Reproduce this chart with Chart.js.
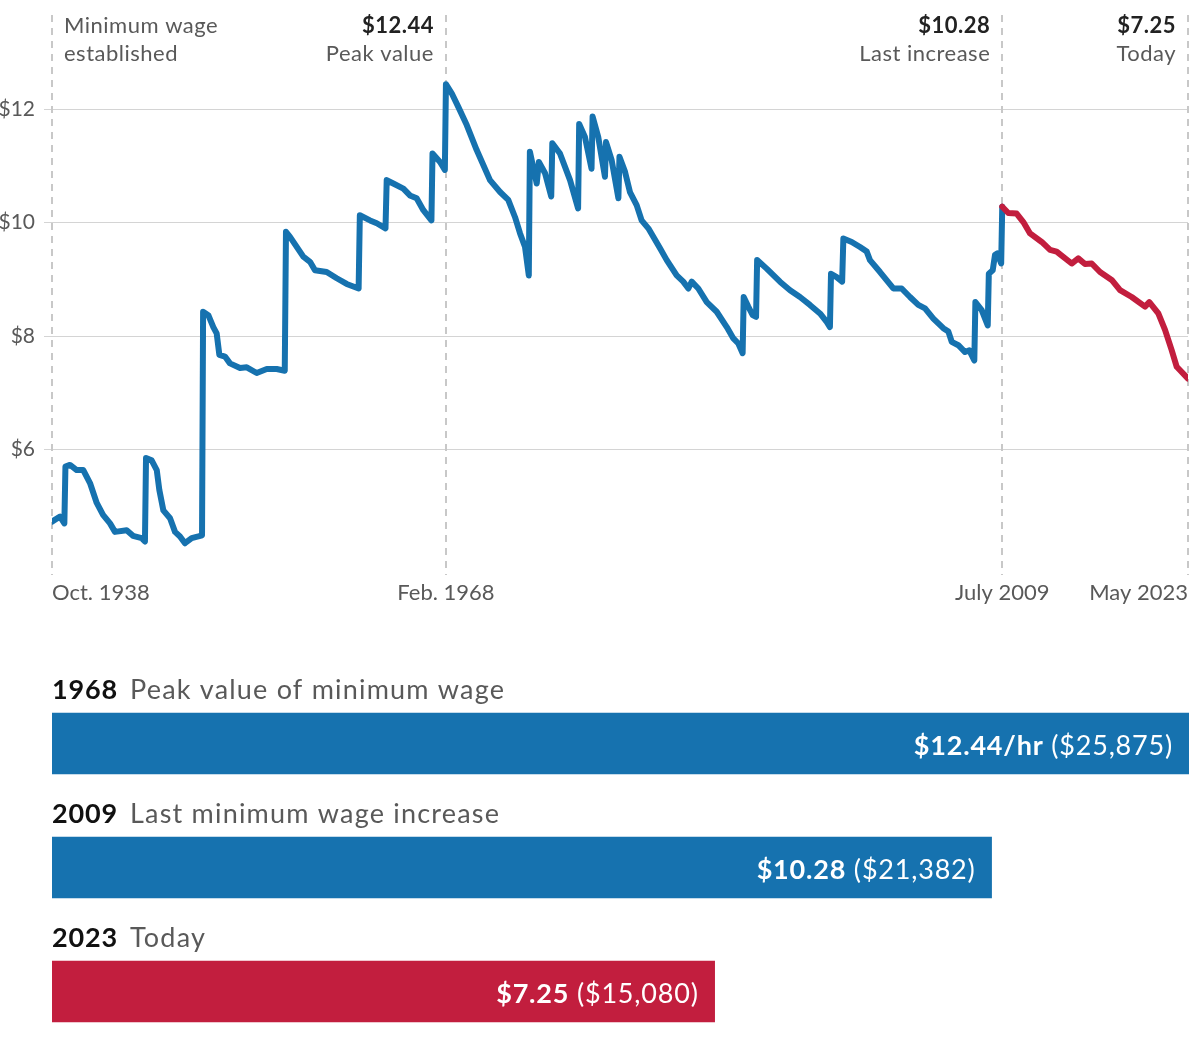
<!DOCTYPE html>
<html>
<head>
<meta charset="utf-8">
<title>Real value of the federal minimum wage</title>
<script src="https://cdn.jsdelivr.net/npm/chart.js@4.4.1/dist/chart.umd.min.js"></script>
<style>
  html, body { margin: 0; padding: 0; background: #fff; overflow: hidden; }
  #wrap { position: relative; width: 1200px; height: 1050px; overflow: hidden; }
  #lineChart { position: absolute; left: 0; top: 0; }
  #barChart { position: absolute; left: 0; top: 620px; }
</style>
</head>
<body>
<div id="wrap">
  <canvas id="lineChart" width="1200" height="620"></canvas>
  <canvas id="barChart" width="1200" height="440"></canvas>
</div>
<script>
// minimum wage in May 2023 dollars, dates as decimal years
const blueDates = [
  1938.75, 1939.35, 1939.67, 1939.75, 1940.09, 1940.59, 1941.08, 1941.58, 1942.08, 1942.55,
  1943.07, 1943.44, 1944.31, 1944.78, 1945.43, 1945.67, 1945.75, 1946.17, 1946.55, 1946.74,
  1947.04, 1947.54, 1947.91, 1948.28, 1948.65, 1949.15, 1949.64, 1949.92, 1950.0, 1950.39,
  1950.76, 1951.01, 1951.21, 1951.63, 1952.0, 1952.75, 1953.25, 1953.99, 1954.74, 1955.48,
  1956.08, 1956.17, 1956.47, 1957.46, 1957.96, 1958.33, 1959.2, 1959.95, 1960.69, 1961.58,
  1961.67, 1962.43, 1962.93, 1963.58, 1963.67, 1964.16, 1964.91, 1965.4, 1965.9, 1966.4,
  1967.0, 1967.08, 1967.64, 1968.0, 1968.08, 1968.51, 1969.0, 1969.63, 1970.37, 1971.36,
  1972.11, 1972.72, 1973.22, 1973.6, 1973.97, 1974.25, 1974.33, 1974.84, 1975.0, 1975.46,
  1975.92, 1976.0, 1976.57, 1977.32, 1977.92, 1978.0, 1978.43, 1978.92, 1979.0, 1979.42,
  1979.92, 1980.0, 1980.42, 1980.92, 1981.0, 1981.41, 1981.78, 1982.28, 1982.65, 1983.15,
  1984.02, 1984.52, 1985.26, 1985.75, 1986.13, 1986.38, 1986.87, 1987.5, 1988.24, 1988.99,
  1989.48, 1989.85, 1990.17, 1990.25, 1990.59, 1990.92, 1991.17, 1991.25, 1991.96, 1992.95,
  1993.7, 1994.44, 1995.18, 1995.93, 1996.43, 1996.67, 1996.75, 1997.17, 1997.58, 1997.67,
  1998.29, 1998.91, 1999.41, 1999.65, 2000.4, 2001.39, 2002.01, 2002.63, 2003.25, 2003.75,
  2004.37, 2005.11, 2005.49, 2005.74, 2006.23, 2006.73, 2007.05, 2007.42, 2007.5, 2007.97,
  2008.42, 2008.5, 2008.79, 2008.96, 2009.13, 2009.42, 2009.5
];
const blueWages = [
  4.73, 4.82, 4.70, 5.70, 5.73, 5.64, 5.64, 5.41, 5.06, 4.85,
  4.70, 4.55, 4.58, 4.48, 4.44, 4.38, 5.85, 5.81, 5.64, 5.29,
  4.93, 4.79, 4.55, 4.47, 4.35, 4.44, 4.47, 4.49, 8.43, 8.37,
  8.16, 8.05, 7.67, 7.64, 7.52, 7.44, 7.45, 7.35, 7.42, 7.42,
  7.39, 9.84, 9.75, 9.40, 9.31, 9.16, 9.13, 9.02, 8.92, 8.84,
  10.13, 10.04, 9.99, 9.90, 10.75, 10.69, 10.60, 10.48, 10.43, 10.22,
  10.04, 11.22, 11.07, 10.93, 12.44, 12.28, 12.04, 11.72, 11.28, 10.75,
  10.54, 10.40, 10.10, 9.81, 9.57, 9.07, 11.25, 10.69, 11.07, 10.87,
  10.46, 11.40, 11.22, 10.75, 10.25, 11.74, 11.51, 10.95, 11.87, 11.51,
  10.81, 11.42, 11.10, 10.43, 11.16, 10.90, 10.54, 10.31, 10.04, 9.90,
  9.55, 9.34, 9.07, 8.96, 8.84, 8.96, 8.84, 8.60, 8.43, 8.16,
  7.96, 7.87, 7.70, 8.69, 8.52, 8.37, 8.34, 9.34, 9.19, 8.96,
  8.81, 8.69, 8.55, 8.40, 8.25, 8.16, 9.10, 9.04, 8.96, 9.72,
  9.66, 9.57, 9.49, 9.34, 9.13, 8.84, 8.84, 8.69, 8.55, 8.49,
  8.31, 8.14, 8.08, 7.90, 7.84, 7.72, 7.75, 7.57, 8.60, 8.46,
  8.19, 9.10, 9.16, 9.43, 9.46, 9.28, 10.28
];
// since the last increase
const redDates = [
  2009.5, 2009.95, 2010.57, 2011.07, 2011.57, 2012.44, 2013.06, 2013.55, 2014.67, 2015.16,
  2015.66, 2016.16, 2016.78, 2017.65, 2018.27, 2019.14, 2020.13, 2020.45, 2021.12, 2021.62,
  2022.12, 2022.49, 2023.33
];
const redWages = [
  10.28, 10.17, 10.16, 10.01, 9.81, 9.66, 9.52, 9.49, 9.28, 9.37,
  9.27, 9.28, 9.13, 8.99, 8.81, 8.69, 8.52, 8.60, 8.40, 8.11,
  7.75, 7.46, 7.25
];

const tickDates = [1938.75, 1968.08, 2009.5, 2023.33];
const tickLabels = ['Oct. 1938', 'Feb. 1968', 'July 2009', 'May 2023'];
const yTicks = [6, 8, 10, 12];
const markerLabels = [
  ['Minimum wage', 'established'],
  ['$12.44', 'Peak value'],
  ['$10.28', 'Last increase'],
  ['$7.25', 'Today']
];

const barYears = ['1968', '2009', '2023'];
const barNotes = ['Peak value of minimum wage', 'Last minimum wage increase', 'Today'];
const barWages = [12.44, 10.28, 7.25];
const barUnits = ['/hr', '', ''];
const barAnnual = [25875, 21382, 15080];

const FONT = 'Lato, "Open Sans", sans-serif';
const BLUE = '#1672af';
const RED = '#c21e3e';
const GRID = '#d4d4d4';
const DASH = '#c8c8c8';
const GREY = '#595959';
const INK = '#222';

const toPoints = (xs, ys) => xs.map((x, i) => ({ x, y: ys[i] }));

const markerPlugin = {
  id: 'markers',
  beforeDatasetsDraw(chart) {
    const { ctx, chartArea, scales } = chart;
    ctx.save();
    ctx.strokeStyle = DASH;
    ctx.lineWidth = 2;
    ctx.setLineDash([7, 6]);
    tickDates.forEach(d => {
      const x = Math.round(scales.x.getPixelForValue(d));
      ctx.beginPath();
      ctx.moveTo(x, chartArea.top);
      ctx.lineTo(x, chartArea.bottom);
      ctx.stroke();
    });
    ctx.restore();
  },
  afterDraw(chart) {
    const { ctx, scales } = chart;
    ctx.save();
    ctx.textBaseline = 'alphabetic';
    ctx.letterSpacing = '0.5px';
    markerLabels.forEach((lines, i) => {
      const x = scales.x.getPixelForValue(tickDates[i]);
      const first = i === 0;
      ctx.textAlign = first ? 'left' : 'right';
      const tx = first ? x + 12 : x - 12;
      ctx.font = (first ? '' : 'bold ') + '22px ' + FONT;
      ctx.fillStyle = first ? GREY : INK;
      ctx.fillText(lines[0], tx, 33);
      ctx.font = '22px ' + FONT;
      ctx.fillStyle = GREY;
      ctx.fillText(lines[1], tx, 61);
    });
    ctx.restore();
  }
};

new Chart(document.getElementById('lineChart'), {
  type: 'line',
  data: {
    datasets: [
      { data: toPoints(blueDates, blueWages), borderColor: BLUE, order: 1 },
      { data: toPoints(redDates, redWages), borderColor: RED, order: 0 }
    ]
  },
  options: {
    responsive: false,
    animation: false,
    elements: {
      line: { borderWidth: 6, tension: 0, borderJoinStyle: 'round', borderCapStyle: 'round', fill: false },
      point: { radius: 0, hoverRadius: 0 }
    },
    layout: { padding: { top: 15, right: 12, bottom: 0, left: 0 } },
    plugins: { legend: { display: false }, tooltip: { enabled: false } },
    scales: {
      x: {
        type: 'linear',
        min: 1938.75,
        max: 2023.33,
        afterBuildTicks: s => { s.ticks = tickDates.map(v => ({ value: v })); },
        afterFit: s => { s.height = 45; },
        grid: { display: false, drawTicks: false },
        border: { display: false },
        ticks: {
          align: 'inner',
          padding: 5,
          autoSkip: false,
          maxRotation: 0,
          color: GREY,
          font: { family: FONT, size: 22 },
          callback: (v, i) => tickLabels[i]
        }
      },
      y: {
        min: 3.79,
        max: 13.66,
        afterBuildTicks: s => { s.ticks = yTicks.map(v => ({ value: v })); },
        afterFit: s => { s.width = 52; },
        grid: { color: GRID, lineWidth: 1, drawTicks: true, tickLength: 8 },
        border: { display: false },
        ticks: {
          padding: 9,
          color: GREY,
          // small lineHeight keeps the axis from pushing the plot top down
          font: { family: FONT, size: 21, lineHeight: 0.5 },
          callback: v => '$' + v
        }
      }
    }
  },
  plugins: [markerPlugin]
});

const barTextPlugin = {
  id: 'barText',
  afterDatasetsDraw(chart) {
    const { ctx } = chart;
    const meta = chart.getDatasetMeta(0);
    ctx.save();
    ctx.textBaseline = 'alphabetic';
    meta.data.forEach((bar, i) => {
      const top = bar.y - bar.height / 2;
      // heading above bar
      ctx.textAlign = 'left';
      ctx.letterSpacing = '0.8px';
      ctx.font = 'bold 27px ' + FONT;
      ctx.fillStyle = '#111';
      ctx.fillText(barYears[i], 52, top - 14);
      ctx.letterSpacing = '1.2px';
      ctx.font = '27px ' + FONT;
      ctx.fillStyle = GREY;
      ctx.fillText(barNotes[i], 130, top - 14);

      // value inside bar
      const rate = '$' + barWages[i].toFixed(2) + barUnits[i];
      const annual = ' ($' + barAnnual[i].toLocaleString('en-US') + ')';
      const right = bar.x - 16;
      ctx.letterSpacing = '0.8px';
      ctx.textAlign = 'right';
      ctx.fillStyle = '#fff';
      ctx.font = '27px ' + FONT;
      const w = ctx.measureText(annual).width;
      ctx.fillText(annual, right, bar.y + 11);
      ctx.font = 'bold 27px ' + FONT;
      ctx.fillText(rate, right - w, bar.y + 11);
    });
    ctx.restore();
  }
};

new Chart(document.getElementById('barChart'), {
  type: 'bar',
  data: {
    labels: barYears,
    datasets: [{
      data: barWages,
      backgroundColor: [BLUE, BLUE, RED],
      borderWidth: 0,
      barThickness: 61
    }]
  },
  options: {
    indexAxis: 'y',
    responsive: false,
    animation: false,
    layout: { padding: { top: 61.5, right: 11, bottom: 6.5, left: 52 } },
    plugins: { legend: { display: false }, tooltip: { enabled: false } },
    scales: {
      x: { display: false, min: 0, max: 12.44 },
      y: { display: false }
    }
  },
  plugins: [barTextPlugin]
});
</script>
</body>
</html>
